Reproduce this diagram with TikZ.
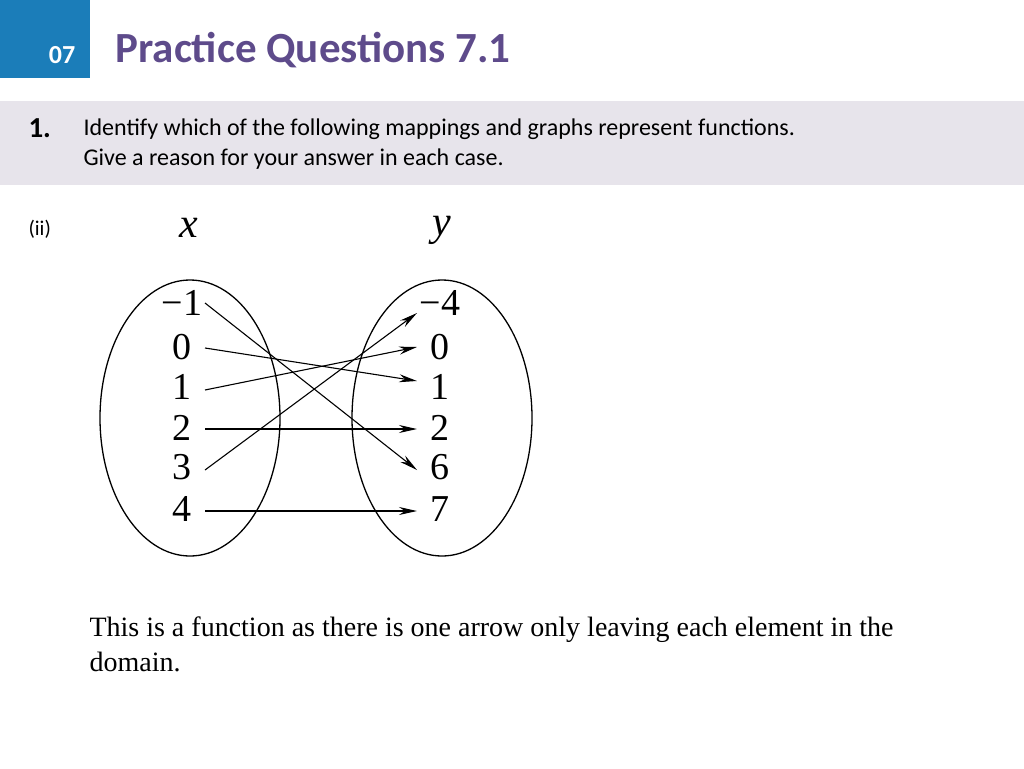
\documentclass[tikz,border=0pt]{standalone}
\usepackage{fontspec}
\setmainfont{Liberation Serif}
\newfontfamily\calfnt{Carlito}
\usetikzlibrary{arrows.meta}
\definecolor{hblue}{HTML}{1B7DB9}
\definecolor{hpurp}{HTML}{5E4B8B}
\definecolor{band}{HTML}{E7E4EB}
\begin{document}
\begin{tikzpicture}[x=1pt,y=-1pt,
  num/.style={font=\fontsize{38}{38}\selectfont, inner sep=1pt},
  arr/.style={-{Stealth[length=18pt,width=8pt]}, line width=1.1pt},
  ell/.style={draw, line width=1.3pt}]
\useasboundingbox (0,0) rectangle (1024,768);
\fill[hblue] (0,0) rectangle (90,78);
\node[text=white,font=\calfnt\bfseries\fontsize{26}{26}\selectfont] (h07) at (62,55) {07};
\node[anchor=west,text=hpurp,font=\calfnt\bfseries\fontsize{43}{43}\selectfont] (title) at (112,50) {Practice Questions 7.1};
\fill[band] (0,101) rectangle (1024,185);
\node[anchor=west,font=\calfnt\bfseries\fontsize{29}{29}\selectfont] (q1) at (25,128) {1.};
\node[anchor=west,font=\calfnt\fontsize{24}{24}\selectfont] (l1) at (80,129) {Identify which of the following mappings and graphs represent functions.};
\node[anchor=west,font=\calfnt\fontsize{24}{24}\selectfont] (l2) at (80,159) {Give a reason for your answer in each case.};
\node[anchor=west,font=\calfnt\fontsize{21}{21}\selectfont] (ii) at (25,229) {(ii)};
\draw[ell] (190,418) ellipse [x radius=90, y radius=138];
\draw[ell] (442,418) ellipse [x radius=90, y radius=138];
\node[font=\itshape\fontsize{42}{42}\selectfont] (xl) at (189,228) {x};
\node[font=\itshape\fontsize{42}{42}\selectfont] (yl) at (442,230) {y};
\foreach \n/\t/\yy in {a/−1/303, b/0/347, c/1/387, d/2/428, e/3/467, f/4/509}
  \node[num] (L\n) at (182,\yy) {\t};
\foreach \n/\t/\yy in {a/−4/303, b/0/347, c/1/387, d/2/428, e/6/467, f/7/509}
  \node[num] (R\n) at (440,\yy) {\t};
\draw[arr] (205,303) -- (417,470);
\draw[arr] (205,348) -- (417,381);
\draw[arr] (205,390) -- (417,347);
\draw[arr] (205,429) -- (417,429);
\draw[arr] (205,470) -- (417,313);
\draw[arr] (205,511) -- (417,511);
\node[anchor=west,font=\fontsize{28}{28}\selectfont] (t1) at (86,630) {This is a function as there is one arrow only leaving each element in the};
\node[anchor=west,font=\fontsize{28}{28}\selectfont] (t2) at (86,662) {domain.};
\end{tikzpicture}
\end{document}
